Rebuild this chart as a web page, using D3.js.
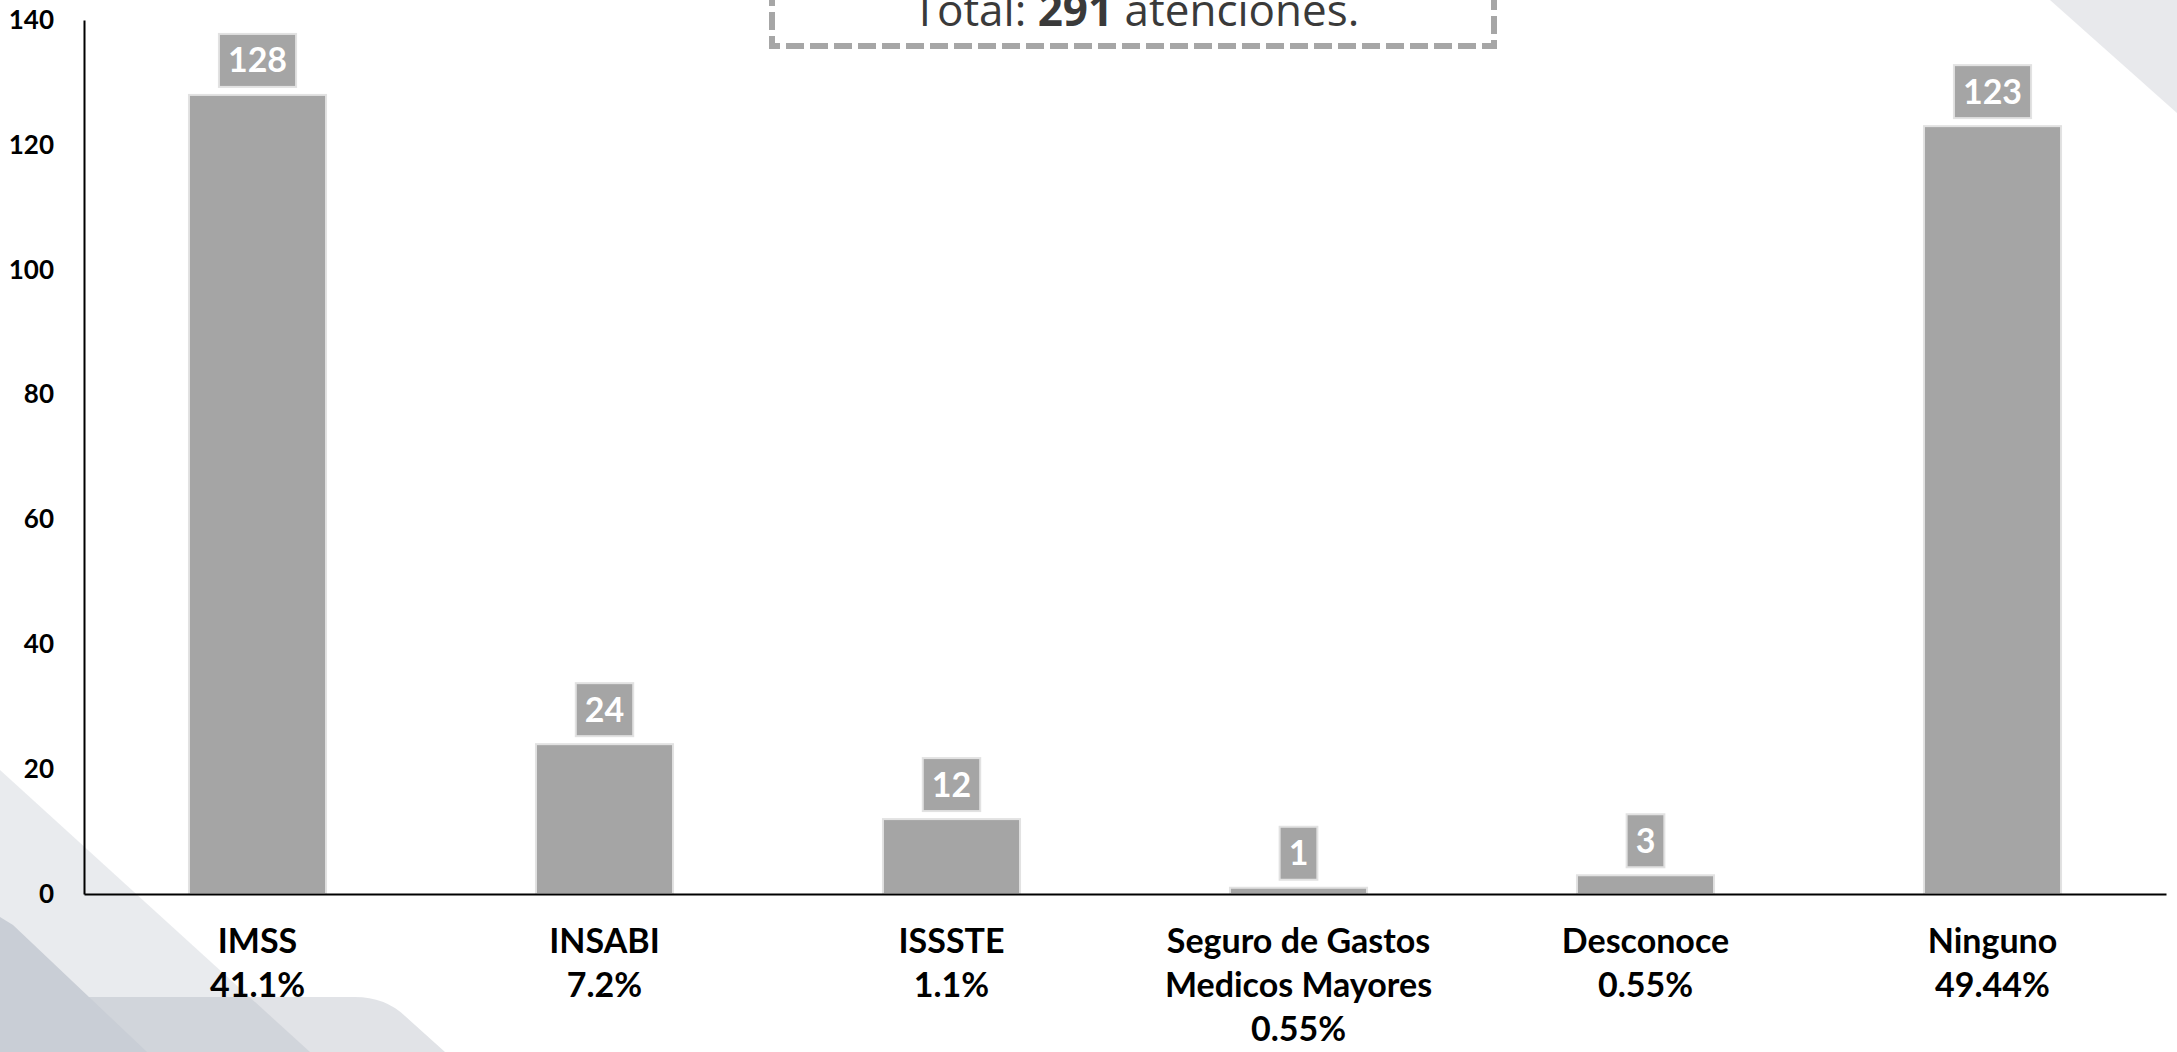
<!DOCTYPE html>
<html>
<head>
<meta charset="utf-8">
<script src="https://cdn.jsdelivr.net/npm/d3@7"></script>
<style>
  html, body { margin: 0; padding: 0; background: #ffffff; overflow: hidden; }
  svg { display: block; }
</style>
</head>
<body>
<svg id="chart" width="2177" height="1052"></svg>
<script>
// ---- data ----
const categories = ["IMSS", "INSABI", "ISSSTE", "Seguro de Gastos Medicos Mayores", "Desconoce", "Ninguno"];
const categoryLines = [["IMSS"], ["INSABI"], ["ISSSTE"], ["Seguro de Gastos", "Medicos Mayores"], ["Desconoce"], ["Ninguno"]];
const percentLabels = ["41.1%", "7.2%", "1.1%", "0.55%", "0.55%", "49.44%"];
const values = [128, 24, 12, 1, 3, 123];
const yTicks = [0, 20, 40, 60, 80, 100, 120, 140];
const titlePrefix = "Total: ";
const titleTotal = "291";
const titleSuffix = " atenciones.";

// ---- layout ----
const svg = d3.select("#chart");

// background decorations
const bg = svg.append("g");
bg.append("polygon").attr("points", "2050,0 2177,0 2177,113").attr("fill", "#e8e9ec");
bg.append("polygon").attr("points", "0,770 310,1052 0,1052").attr("fill", "#9aa3b0").attr("fill-opacity", 0.22);
bg.append("path")
  .attr("d", "M0,997 L355,997 Q385,997 405,1016 L445,1052 L0,1052 Z")
  .attr("fill", "#9aa3b0").attr("fill-opacity", 0.3);
bg.append("polygon").attr("points", "0,917 13,925 147,1052 0,1052").attr("fill", "#c9ced6");

const x = d3.scaleBand()
  .domain(categories)
  .range([84, 2166])
  .paddingInner(0.605)
  .paddingOuter(0.3025);

const y = d3.scaleLinear().domain([0, 140]).range([894, 20]);

const data = categories.map((c, i) => ({ c, v: values[i], lines: categoryLines[i], pct: percentLabels[i] }));

// bars
svg.append("g").selectAll("rect")
  .data(data).join("rect")
  .attr("x", d => x(d.c))
  .attr("y", d => y(d.v))
  .attr("width", x.bandwidth())
  .attr("height", d => y(0) - y(d.v))
  .attr("fill", "#a5a5a5")
  .attr("stroke", "#e2e2e2")
  .attr("stroke-width", 2);

// y axis
const yAxis = svg.append("g")
  .attr("transform", "translate(84,0)")
  .call(d3.axisLeft(y).tickValues(yTicks).tickSize(0).tickSizeOuter(0).tickPadding(30));
yAxis.select(".domain").attr("stroke", "#000").attr("stroke-width", 2);
yAxis.selectAll("text")
  .attr("font-family", "Lato, 'Open Sans', sans-serif")
  .attr("font-weight", "bold")
  .attr("font-size", 26)
  .attr("fill", "#000");

// x axis
const xAxis = svg.append("g")
  .attr("transform", "translate(0,894)")
  .call(d3.axisBottom(x).tickSize(0).tickSizeOuter(0).tickFormat(""));
xAxis.select(".domain").attr("stroke", "#000").attr("stroke-width", 2);

const xl = svg.append("g").selectAll("text")
  .data(data).join("text")
  .attr("x", d => x(d.c) + x.bandwidth() / 2)
  .attr("y", 953)
  .attr("text-anchor", "middle")
  .attr("font-family", "Lato, 'Open Sans', sans-serif")
  .attr("font-weight", "bold")
  .attr("font-size", 34)
  .attr("fill", "#000");
xl.each(function(d) {
  const t = d3.select(this);
  const lines = d.lines.concat([d.pct]);
  lines.forEach((ln, i) => {
    t.append("tspan")
      .attr("x", x(d.c) + x.bandwidth() / 2)
      .attr("dy", i === 0 ? 0 : 44)
      .text(ln);
  });
});

// data labels with boxes
const lg = svg.append("g").selectAll("g")
  .data(data).join("g");
lg.each(function(d) {
  const g = d3.select(this);
  const cx = x(d.c) + x.bandwidth() / 2;
  const boxBottom = y(d.v) - 8;
  const boxH = 53;
  const txt = g.append("text")
    .attr("x", cx)
    .attr("y", boxBottom - boxH / 2 + 12)
    .attr("text-anchor", "middle")
    .attr("font-family", "Lato, 'Open Sans', sans-serif")
    .attr("font-weight", "bold")
    .attr("font-size", 34)
    .attr("fill", "#ffffff")
    .text(d.v);
  const tw = txt.node().getComputedTextLength();
  const bw = tw + 18;
  g.insert("rect", "text")
    .attr("x", cx - bw / 2)
    .attr("y", boxBottom - boxH)
    .attr("width", bw)
    .attr("height", boxH)
    .attr("fill", "#a5a5a5")
    .attr("stroke", "#e2e2e2")
    .attr("stroke-width", 2);
});

// title box (top clipped by the page edge, as in the reference)
svg.append("rect")
  .attr("x", 772).attr("y", -30)
  .attr("width", 722).attr("height", 76)
  .attr("fill", "none")
  .attr("stroke", "#a6a6a6")
  .attr("stroke-width", 6)
  .attr("stroke-dasharray", "18,6");

const title = svg.append("text")
  .attr("x", 1136).attr("y", 26)
  .attr("text-anchor", "middle")
  .attr("font-family", "'Open Sans', 'Noto Sans', sans-serif")
  .attr("font-size", 44)
  .attr("fill", "#3a3a3a");
title.append("tspan").text(titlePrefix);
title.append("tspan").attr("font-weight", "bold").text(titleTotal);
title.append("tspan").text(titleSuffix);
</script>
</body>
</html>
